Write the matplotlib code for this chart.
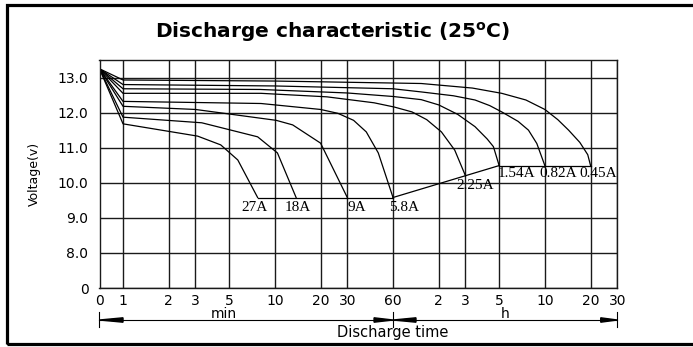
import numpy as np
import matplotlib
matplotlib.use("Agg")
import matplotlib.pyplot as plt
from matplotlib.transforms import blended_transform_factory
from matplotlib.patches import Polygon, Rectangle
from matplotlib.lines import Line2D

# discharge curves: time in minutes, voltage in V
t_27 = [0.7, 1, 3.1, 4.4, 5.7, 7.7]
v_27 = [13.25, 11.68, 11.33, 11.08, 10.65, 9.58]
t_18 = [0.7, 1, 3.3, 7.7, 10.4, 13.8]
v_18 = [13.25, 11.87, 11.71, 11.31, 10.85, 9.58]
t_9 = [0.7, 1, 3.0, 10.2, 13.1, 20, 30]
v_9 = [13.25, 12.18, 12.09, 11.78, 11.65, 11.13, 9.58]
t_58 = [0.7, 1, 8.1, 20, 26, 33, 40, 48, 60]
v_58 = [13.25, 12.32, 12.26, 12.09, 11.98, 11.78, 11.45, 10.85, 9.58]
t_225 = [0.7, 1, 8.1, 22, 45, 61, 80, 100, 125, 153, 180]
v_225 = [13.25, 12.55, 12.55, 12.45, 12.28, 12.16, 12.02, 11.8, 11.45, 10.93, 10.2]
t_154 = [0.7, 1, 8, 30, 60, 92, 120, 160, 208, 250, 275, 300]
v_154 = [13.25, 12.68, 12.66, 12.56, 12.46, 12.37, 12.22, 11.95, 11.6, 11.25, 11.03, 10.49]
t_082 = [0.7, 1, 10, 60, 92, 150, 208, 260, 312, 400, 468, 531, 600]
v_082 = [13.25, 12.8, 12.76, 12.68, 12.59, 12.48, 12.36, 12.2, 12.02, 11.75, 11.5, 11.12, 10.49]
t_045 = [0.7, 1, 10, 92, 200, 312, 450, 600, 730, 860, 1020, 1150, 1200]
v_045 = [13.25, 12.93, 12.9, 12.83, 12.7, 12.55, 12.36, 12.09, 11.8, 11.5, 11.15, 10.8, 10.49]

curves = [(t_27, v_27), (t_18, v_18), (t_9, v_9), (t_58, v_58),
          (t_225, v_225), (t_154, v_154), (t_082, v_082), (t_045, v_045)]
names = ["27A", "18A", "9A", "5.8A", "2.25A", "1.54A", "0.82A", "0.45A"]
# label offsets from curve end (points)
offs = [(-2, -7), (1, -7), (7, -7), (8, -7), (7, -7), (12.5, -5.5), (9.5, -5.5), (5.5, -5.5)]

# end-voltage connectors
cut_t1 = [7.7, 60]
cut_v1 = [9.58, 9.58]
cut_t2 = [60, 300]
cut_v2 = [9.58, 10.49]
cut_t3 = [300, 1200]
cut_v3 = [10.49, 10.49]

xticks = [0.7, 1, 2, 3, 5, 10, 20, 30, 60, 120, 180, 300, 600, 1200, 1800]
xlabels = ["0", "1", "2", "3", "5", "10", "20", "30", "60", "2", "3", "5", "10", "20", "30"]
yticks = [7, 8, 9, 10, 11, 12, 13]
ylabels = ["0", "8.0", "9.0", "10.0", "11.0", "12.0", "13.0"]

fig = plt.figure(figsize=(6.93, 3.47), dpi=100)
ax = fig.add_axes([99.5 / 693, 1 - 288 / 347, (617.3 - 99.5) / 693, (288 - 60) / 347])
ax.set_xscale("log")
ax.set_xlim(0.7, 1800)
ax.set_ylim(7, 13.5)
ax.set_xticks(xticks)
ax.set_xticklabels(xlabels)
ax.xaxis.set_minor_locator(matplotlib.ticker.NullLocator())
ax.set_yticks(yticks)
ax.set_yticklabels(ylabels)
ax.tick_params(length=0, labelsize=10, pad=4)
ax.tick_params(axis="y", pad=8)
ax.grid(True, color="#1a1a1a", lw=1.0)
ax.set_axisbelow(True)
for s in ax.spines.values():
    s.set_color("#1a1a1a")
    s.set_linewidth(1.0)

for (t, v), nm, o in zip(curves, names, offs):
    ax.plot(t, v, color="black", lw=0.9)
    ax.annotate(nm, (t[-1], v[-1]), xytext=o, textcoords="offset points",
                ha="center", va="center", fontsize=11, family="Liberation Serif")
ax.plot(cut_t1, cut_v1, color="black", lw=0.9)
ax.plot(cut_t2, cut_v2, color="black", lw=0.9)
ax.plot(cut_t3, cut_v3, color="black", lw=0.9)

ax.set_ylabel("Voltage(v)", fontsize=9, labelpad=12)

fig.text(333 / 693, 1 - 32 / 347, r"Discharge characteristic (25$^{\mathbf{o}}$C)",
         ha="center", va="center", fontsize=14.5, fontweight="bold")

# time axis arrow below the chart
tr = blended_transform_factory(ax.transData, fig.transFigure)
ya = 1 - 320 / 347
h = 2.2 / 347
fig.add_artist(Line2D([0.7, 1800], [ya, ya], transform=tr, color="black", lw=0.8))
for x0, x1 in [(0.7, 1.0), (60, 45), (60, 85), (1800, 1400)]:
    fig.add_artist(Polygon([(x0, ya), (x1, ya + h), (x1, ya - h)], closed=True,
                           transform=tr, color="black"))
for xv in [0.7, 60, 1800]:
    fig.add_artist(Line2D([xv, xv], [1 - 312 / 347, 1 - 327 / 347], transform=tr,
                          color="black", lw=0.8))
fig.text(4.6, 1 - 314 / 347, "min", transform=tr, ha="center", va="center", fontsize=10)
fig.text(330, 1 - 314 / 347, "h", transform=tr, ha="center", va="center", fontsize=10)
fig.text(60, 1 - 333 / 347, "Discharge time", transform=tr, ha="center", va="center",
         fontsize=10.5)

# outer frame
fig.add_artist(Rectangle((6.5 / 693, 1 - 344 / 347), 1.1, (344 - 4.5) / 347,
                         transform=fig.transFigure, fill=False, lw=2.3,
                         edgecolor="black", clip_on=False))

fig.savefig("out.png", dpi=100)
